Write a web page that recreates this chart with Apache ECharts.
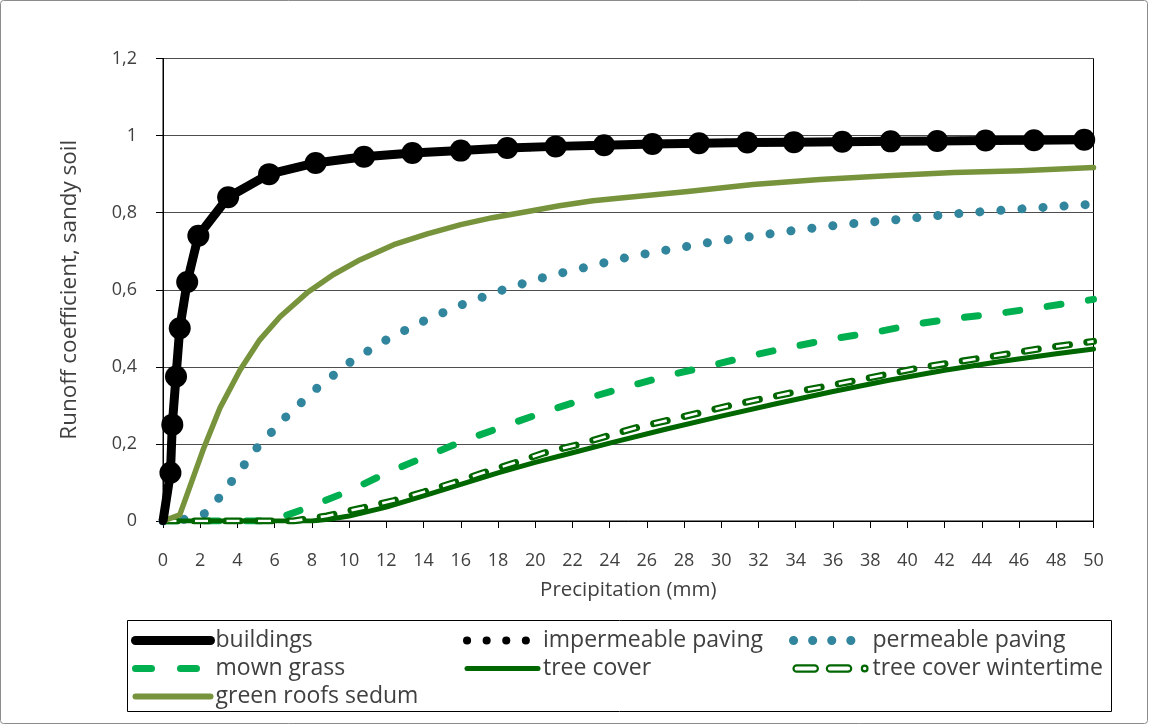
<!DOCTYPE html>
<html><head><meta charset="utf-8">
<script src="https://cdn.jsdelivr.net/npm/echarts@6/dist/echarts.min.js"></script>
<style>html,body{margin:0;padding:0;background:#fff}#c{width:1149px;height:725px}</style>
</head><body><div id="c"></div>
<script>
// ---- data ----
const yTickLabels = ['0', '0,2', '0,4', '0,6', '0,8', '1', '1,2'];

const buildingsX = [0, 0.4, 0.5, 0.7, 0.9, 1.3, 1.9, 3.5, 5.7, 8.2, 10.8, 13.4, 16.0, 18.5, 21.1, 23.7, 26.3, 28.8, 31.4, 33.9, 36.5, 39.1, 41.6, 44.2, 46.8, 49.5];
const buildingsY = [0, 0.125, 0.25, 0.375, 0.5, 0.62, 0.74, 0.84, 0.90, 0.929, 0.945, 0.955, 0.961, 0.968, 0.972, 0.975, 0.978, 0.980, 0.982, 0.983, 0.984, 0.985, 0.986, 0.987, 0.988, 0.989];

const impermeableX = [0, 0.4, 0.5, 0.7, 0.9, 1.3, 1.9, 3.5, 5.7, 8.2, 10.8, 13.4, 16.0, 18.5, 21.1, 23.7, 26.3, 28.8, 31.4, 33.9, 36.5, 39.1, 41.6, 44.2, 46.8, 49.5];
const impermeableY = [0, 0.125, 0.25, 0.375, 0.5, 0.62, 0.74, 0.84, 0.90, 0.929, 0.945, 0.955, 0.961, 0.968, 0.972, 0.975, 0.978, 0.980, 0.982, 0.983, 0.984, 0.985, 0.986, 0.987, 0.988, 0.989];

const permeableX = [0, 1.1, 2.2, 2.96, 3.66, 4.35, 5.05, 6.6, 8.28, 10.16, 12.1, 14.14, 16.3, 18.45, 20.6, 22.85, 25.1, 27.4, 29.6, 31.9, 34.2, 36.5, 38.8, 41.1, 43.3, 45.6, 48.0, 50];
const permeableY = [0, 0.004, 0.018, 0.057, 0.101, 0.145, 0.19, 0.27, 0.345, 0.416, 0.473, 0.522, 0.566, 0.603, 0.634, 0.66, 0.686, 0.706, 0.725, 0.74, 0.756, 0.769, 0.779, 0.79, 0.8, 0.808, 0.816, 0.822];

const grassX = [0, 6.0, 6.7, 7.74, 9.95, 12.04, 14.2, 16.24, 18.4, 20.5, 22.7, 24.9, 27.1, 29.4, 31.6, 33.8, 36.0, 38.4, 40.6, 42.8, 45.1, 47.4, 50];
const grassY = [0, 0, 0.016, 0.034, 0.077, 0.125, 0.169, 0.21, 0.247, 0.283, 0.317, 0.348, 0.377, 0.403, 0.429, 0.452, 0.473, 0.491, 0.512, 0.527, 0.54, 0.556, 0.575];

const treeX = [0, 8, 9, 10, 12, 14, 16, 18, 20, 22, 24, 27, 30, 33, 36, 39, 42, 45, 48, 50];
const treeY = [0, 0, 0.005, 0.013, 0.036, 0.065, 0.095, 0.125, 0.152, 0.177, 0.202, 0.238, 0.272, 0.305, 0.336, 0.365, 0.391, 0.414, 0.434, 0.446];

const winterX = [0, 7, 8.8, 10.7, 12.4, 14, 15.6, 17.2, 18.9, 20.5, 22.3, 23.9, 25.5, 27.3, 30.6, 34, 37.4, 40.7, 44, 47.4, 50];
const winterY = [0, 0, 0.013, 0.034, 0.053, 0.075, 0.099, 0.125, 0.151, 0.177, 0.198, 0.221, 0.243, 0.263, 0.301, 0.335, 0.366, 0.398, 0.423, 0.449, 0.466];

const roofX = [0, 0.9, 2.15, 3.06, 4.14, 5.2, 6.29, 7.74, 9.14, 10.6, 12.4, 14.2, 16.0, 17.7, 19.6, 21.3, 23.1, 24.6, 28.2, 31.7, 35.3, 38.9, 42.5, 46.1, 50];
const roofY = [0, 0.016, 0.184, 0.293, 0.392, 0.47, 0.53, 0.592, 0.639, 0.678, 0.717, 0.745, 0.769, 0.787, 0.803, 0.818, 0.831, 0.838, 0.855, 0.873, 0.886, 0.896, 0.904, 0.909, 0.917];

// ---- chart ----
const FONT = "'Open Sans', sans-serif";
const TXT = '#404040';
const C_TREE = '#006600';
const pairs = (xs, ys) => xs.map((x, i) => [x, ys[i]]);
const hiddenSym = { color: 'rgba(0,0,0,0)', borderColor: 'rgba(0,0,0,0)', borderWidth: 0 };
const legendText = { fontSize: 23, color: TXT, fontFamily: FONT };

// buildings: no marker at the origin point (it sits on the axis corner)
const buildingsData = pairs(buildingsX, buildingsY).map((p, i) => i === 0 ? { value: p, symbol: 'none' } : p);

const chart = echarts.init(document.getElementById('c'), null, { renderer: 'canvas' });
chart.setOption({
  animation: false,
  backgroundColor: '#fff',
  grid: { left: 163, right: 55.5, top: 58.5, bottom: 204, show: true, borderColor: '#000', borderWidth: 1, backgroundColor: 'transparent' },
  xAxis: {
    type: 'value', min: 0, max: 50, interval: 2,
    name: 'Precipitation (mm)', nameLocation: 'middle', nameGap: 59,
    nameTextStyle: { fontSize: 20.5, color: TXT, fontFamily: FONT },
    axisLine: { show: true, lineStyle: { color: '#000', width: 1 } },
    axisTick: { show: true, length: 7, lineStyle: { color: '#000' } },
    axisLabel: { fontSize: 18, color: TXT, fontFamily: FONT, margin: 31 },
    splitLine: { show: false }
  },
  yAxis: {
    type: 'value', min: 0, max: 1.2, interval: 0.2,
    name: 'Runoff coefficient, sandy soil', nameLocation: 'middle', nameGap: 82,
    nameTextStyle: { fontSize: 22.5, color: TXT, fontFamily: FONT },
    axisLine: { show: true, lineStyle: { color: '#000', width: 1 } },
    axisTick: { show: true, length: 7, lineStyle: { color: '#000' } },
    axisLabel: { fontSize: 18, color: TXT, fontFamily: FONT, margin: 26,
      formatter: v => yTickLabels[Math.round(v / 0.2)] },
    splitLine: { show: true, lineStyle: { color: '#4d4d4d', width: 1.2 } }
  },
  legend: [
    { orient: 'vertical', left: 126, top: 624, itemWidth: 75, itemHeight: 14, itemGap: 5, selectedMode: false,
      textStyle: legendText,
      data: [
        { name: 'buildings', itemStyle: hiddenSym, lineStyle: { color: '#000', width: 9, type: 'solid', cap: 'round' } },
        { name: 'mown grass', itemStyle: hiddenSym, lineStyle: { color: '#00B050', width: 7, type: [16, 29], cap: 'round' } },
        { name: 'green roofs sedum', itemStyle: hiddenSym, lineStyle: { color: '#77933C', width: 6, type: 'solid', cap: 'round' } }
      ] },
    { orient: 'vertical', left: 458, top: 624, itemWidth: 71, itemHeight: 14, itemGap: 5, selectedMode: false,
      textStyle: legendText,
      data: [
        { name: 'impermeable paving', itemStyle: hiddenSym, lineStyle: { color: '#000', width: 8, type: [0.1, 19.5], cap: 'round' } },
        { name: 'tree cover', itemStyle: hiddenSym, lineStyle: { color: C_TREE, width: 5, type: 'solid', cap: 'round' } }
      ] },
    { orient: 'vertical', left: 784, top: 624, itemWidth: 74, itemHeight: 14, itemGap: 5, selectedMode: false,
      textStyle: legendText,
      data: [
        { name: 'permeable paving', itemStyle: hiddenSym, lineStyle: { color: '#31859C', width: 9, type: [0.1, 19], cap: 'round' } },
        { name: 'tree cover wintertime',
          icon: 'path://M3,1 H17 A2.5,2.5 0 0 1 17,6 H3 A2.5,2.5 0 0 1 3,1 Z M29,1 H43 A2.5,2.5 0 0 1 43,6 H29 A2.5,2.5 0 0 1 29,1 Z M56,1.3 A2.2,2.2 0 1 1 56,5.7 A2.2,2.2 0 1 1 56,1.3 Z',
          itemStyle: { color: '#fff', borderColor: C_TREE, borderWidth: 2.2 } }
      ] }
  ],
  graphic: [
    { type: 'rect', shape: { x: 127.5, y: 620.5, width: 984, height: 91 }, style: { fill: 'none', stroke: '#000', lineWidth: 1 }, silent: true, z: -1 },
    { type: 'rect', shape: { x: 0.5, y: 0.5, width: 1147, height: 723, r: 3 }, style: { fill: 'none', stroke: '#8c8c8c', lineWidth: 1 }, silent: true, z: -1 }
  ],
  series: [
    { name: 'mown grass', type: 'line', z: 2, data: pairs(grassX, grassY), showSymbol: false, symbol: 'none',
      lineStyle: { color: '#00B050', width: 7, type: [14, 27.7], cap: 'round' }, itemStyle: { color: '#00B050' } },
    { name: 'permeable paving', type: 'line', z: 3, data: pairs(permeableX, permeableY), showSymbol: false, symbol: 'none',
      lineStyle: { color: '#31859C', width: 9, type: [0.1, 21], cap: 'round' }, itemStyle: { color: '#31859C' } },
    { name: 'tree cover', type: 'line', z: 4, data: pairs(treeX, treeY), showSymbol: false, symbol: 'none',
      lineStyle: { color: C_TREE, width: 5, cap: 'round' }, itemStyle: { color: C_TREE } },
    { name: 'tree cover wintertime', type: 'line', z: 5, data: pairs(winterX, winterY), showSymbol: false, symbol: 'none',
      lineStyle: { color: C_TREE, width: 7, type: [14, 17.5], cap: 'round' }, itemStyle: { color: C_TREE } },
    { name: 'winter-inner', type: 'line', z: 6, data: pairs(winterX, winterY), showSymbol: false, symbol: 'none', silent: true,
      lineStyle: { color: '#fff', width: 2.6, type: [13, 18.5], dashOffset: -0.5, cap: 'butt' } },
    { name: 'green roofs sedum', type: 'line', z: 7, data: pairs(roofX, roofY), showSymbol: false, symbol: 'none',
      lineStyle: { color: '#77933C', width: 5.5, cap: 'round', join: 'round' }, itemStyle: { color: '#77933C' } },
    { name: 'impermeable paving', type: 'line', z: 8, data: pairs(impermeableX, impermeableY), showSymbol: false, symbol: 'none',
      lineStyle: { color: '#000', width: 8, type: [0.1, 19.5], cap: 'round' }, itemStyle: { color: '#000' } },
    { name: 'buildings', type: 'line', z: 9, data: buildingsData, symbol: 'circle', symbolSize: 22, showSymbol: true,
      lineStyle: { color: '#000', width: 9, join: 'round' }, itemStyle: { color: '#000' } }
  ]
});
</script></body></html>
